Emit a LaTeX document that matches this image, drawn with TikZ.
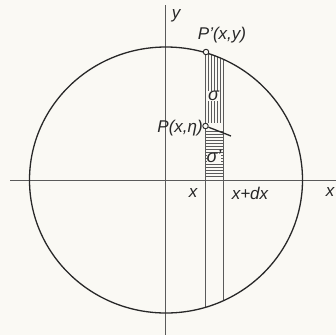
\documentclass[tikz,border=0pt]{standalone}
\usepackage{fontspec}
\setmainfont{Liberation Sans}
\definecolor{paper}{RGB}{250,249,244}
\definecolor{ink}{RGB}{40,40,40}
\definecolor{thin}{RGB}{90,90,90}
\begin{document}
\begin{tikzpicture}[x=1pt,y=-1pt,
  lab/.style={font=\fontsize{17}{19}\selectfont\itshape, inner sep=0pt, text=ink},
  sig/.style={font=\fontsize{18}{20}\selectfont\itshape, inner sep=0pt, text=ink, fill=paper, text height=9pt, text depth=0.5pt},
  axis/.style={line width=0.6pt, draw=thin},
  hatch/.style={line width=0.45pt, draw=thin},
  dot/.style={circle, draw=ink, fill=paper, inner sep=0pt, minimum size=5.5pt, line width=0.9pt}]
\useasboundingbox (0,0) rectangle (336,335);
\fill[paper] (0,0) rectangle (336,335);
\coordinate (O) at (166,180);
\coordinate (xl) at (10,180);
\coordinate (xr) at (336,180);
\coordinate (yt) at (165,5);
\coordinate (yb) at (165,335);
\draw[axis] (xl) -- (xr);
\draw[axis] (yt) -- (yb);
\begin{scope}
\clip (O) ellipse [x radius=136.5, y radius=133];
\foreach \x in {208.5,211.5,214.5,217.5,220.5} \draw[hatch] (\x,40) -- (\x,123);
\draw[hatch] (205.5,40) -- (205.5,320);
\draw[hatch] (223,40) -- (223,320);
\foreach \y in {131,134,...,177} \draw[hatch] (205.5,\y) -- (223,\y);
\end{scope}
\draw[line width=1.3pt, draw=ink] (O) ellipse [x radius=136.5, y radius=133];
\node[sig] (s2) at (214,158) {σ’};
\node[sig] (s1) at (213.5,96) {σ};
\node[dot] (Pp) at (206,52) {};
\node[dot] (P) at (205.5,126) {};
\coordinate (Pe) at (231,136);
\draw[line width=1.3pt, draw=ink] (P) -- (Pe);
\node[lab] (lPp) at (222,35) {P’(x,y)};
\node[lab, anchor=east] (lP) at (203,128) {P(x,η)};
\node[lab] (lx) at (193,193) {x};
\node[lab] (lxdx) at (250,193) {x+dx};
\node[lab] (lxa) at (330,192) {x};
\node[lab] (lya) at (176,16) {y};
\end{tikzpicture}
\end{document}
